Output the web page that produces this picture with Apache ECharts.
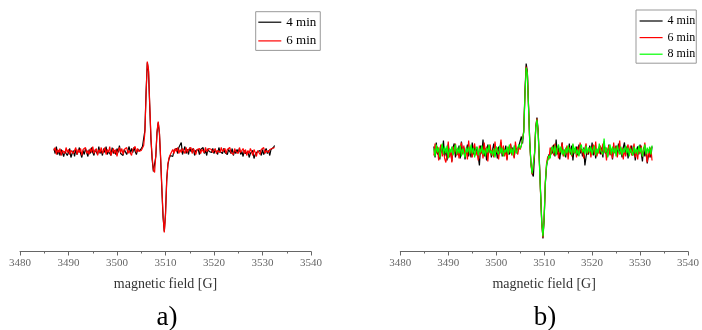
<!DOCTYPE html>
<html lang="en" style="height: 100%">
<head>
<meta charset="utf-8">
<title>EPR spectra</title>
</head>
<body style="height: 100%; margin: 0; background: #fff">
<div id="container" style="height: 100%"></div>

<script type="text/javascript" src="https://cdn.jsdelivr.net/npm/echarts/dist/echarts.min.js"></script>

<script type="text/javascript">

// field sweep: 3487 G upward in 0.25 G steps (183 samples)
var fieldStart = 3487;
var fieldStep = 0.25;

// panel a) signal intensity (a.u.), one row = 10 samples
var a4min = [
    3, -2, 5, -3, 1, -4, 2, -1, -5, 0,
    2, -4, -1, 3, -6, -2, 1, -5, 2, -3,
    0, 4, -2, -6, 1, -3, 3, -1, -5, 2,
    -2, 4, -1, -4, 2, 0, -3, 5, -2, 1,
    -4, 3, -1, 5, -3, 0, 2, -4, 4, -2,
    1, -3, 3, -1, 6, -2, 0, -4, 2, 4,
    -3, 1, 5, -2, 3, -1, 4, 0, -3, 2,
    4, 1, 3, 5, 7, 21, 60, 89, 80, 45,
    12, -8, -20, -22, -5, 19, 29, 18, -8, -38,
    -66, -80, -62, -28, -13, -7, -4, -2, -5, 1,
    -1, 3, -2, 4, 2, 9, -3, 1, 5, -2,
    2, -3, 4, 0, -2, 3, -4, 1, -1, 2,
    -3, 2, 0, 4, -2, 1, -4, 3, 0, 2,
    -1, 3, -2, 2, 1, -3, 4, 0, 2, -2,
    3, -1, 1, -3, 2, 0, -2, 3, -4, 1,
    -2, 2, -1, 3, -3, 0, -5, 1, -2, -4,
    0, -6, -2, -4, 1, -7, -3, -5, 0, -2,
    1, -4, 2, -3, -1, 3, -2, 1, -4, 2,
    1, 4, 6
];
var a6min = [
    1, 4, -3, 2, -1, 3, -4, 1, 2, -2,
    4, -1, 2, -3, 1, 3, -2, 0, 4, -3,
    2, -1, 3, -4, 2, 0, 4, -2, 1, -3,
    3, -1, 5, -2, 0, 3, -4, 2, -1, 4,
    -2, 1, 4, -3, 2, -1, 5, -4, 0, 3,
    -2, 2, -5, 1, 4, -1, 3, -3, 2, 0,
    4, -2, 1, 3, -4, 2, 0, 5, -1, 3,
    0, 2, 1, 3, 6, 19, 58, 90, 82, 47,
    14, -6, -18, -21, -4, 20, 30, 19, -6, -36,
    -64, -81, -64, -30, -12, -6, -3, -1, 2, -2,
    3, 0, 4, -2, 2, -1, 3, 1, -2, 4,
    -1, 2, 0, 4, -2, 3, 1, -3, 2, 0,
    3, -2, 2, 1, -1, 4, 0, -2, 3, 1,
    2, -1, 0, 3, -2, 1, 2, -1, 4, 0,
    1, 3, -2, 2, 0, 4, -1, 1, -3, 3,
    0, 2, -2, 4, -1, 1, 3, -2, 2, -4,
    1, -2, 3, 0, -4, 2, -1, -5, 1, 3,
    -3, 2, 0, 4, -2, 1, 3, -1, 2, 0,
    3, 2, 4
];

// panel b)
var b4min = [
    5, -6, 9, -3, 2, -8, 6, -2, 11, -5,
    3, -9, 7, -4, 1, -10, 4, 8, -6, 2,
    -3, 6, -7, 10, -2, 4, -8, 1, 7, -5,
    2, -6, 9, -3, 5, -1, 4, 3, -14, 6,
    -2, 12, -5, 3, -9, 7, -1, 4, -6, 2,
    8, -4, 1, -7, 5, -2, 9, -5, 3, -1,
    6, -8, 2, -3, 7, -1, 4, -6, 3, 3,
    2, 6, 4, 15, 8, 22, 60, 88, 80, 45,
    10, -12, -22, -25, -3, 24, 34, 21, -9, -40,
    -70, -87, -68, -32, -15, -7, -3, -6, 4, -2,
    7, -5, 12, -3, 5, -8, 2, 9, -4, 1,
    -6, 4, -2, 8, -3, 6, -9, 3, -1, 5,
    -4, 7, -2, 3, -5, 4, -14, -5, 1, -3,
    6, -2, 9, -4, 3, -7, 2, -1, 5, -3,
    4, -6, 10, -2, 1, -5, 7, -3, 2, -8,
    3, -1, 6, -4, 8, -2, 1, -6, 4, 9,
    -3, 5, -7, 2, -1, 6, -4, 3, -9, 1,
    5, -3, 7, -2, -10, 4, -5, 2, -12, -4,
    3, -6, 5
];
var b6min = [
    -4, 8, -2, 5, -9, 3, 7, -5, 1, -7,
    -11, -3, 10, -6, 2, -11, 5, -2, 8, -4,
    1, -7, 4, 9, -3, 6, -5, 2, -8, 11,
    -2, 5, -6, 3, 8, -4, 1, -9, 6, -3,
    4, -7, 9, -2, 5, -10, 3, 7, -4, 2,
    -6, 10, -1, 4, -8, 3, 12, -3, 6, -5,
    2, -9, 5, -1, 8, -4, 3, -7, 10, 1,
    -3, 5, 2, 6, 4, 20, 58, 85, 79, 44,
    8, -13, -23, -24, -2, 25, 33, 20, -10, -42,
    -72, -86, -66, -30, -12, -5, -8, 4, -3, 6,
    -4, 8, -2, 5, -7, 3, -1, 9, -5, 2,
    -3, 6, -8, 4, 1, -5, 7, -2, 3, -6,
    5, -4, 9, -1, 2, -7, 3, 8, -3, -1,
    4, -6, 2, 7, -3, 10, -5, 1, -2, 6,
    -3, 8, -1, 4, -9, 2, 6, -4, 3, -7,
    9, -2, 5, -6, 1, 11, -3, 4, -8, 2,
    -5, 3, 7, -2, 6, -4, 1, 8, -6, 3,
    -8, 4, -2, 6, -5, 1, 9, -3, -11, 2,
    -6, 4, -9
];
var b8min = [
    3, -5, 7, -1, 4, -6, 2, 8, -3, 5,
    -2, 6, -7, 3, -1, 5, -4, 2, 7, -3,
    4, -2, 6, -5, 3, 1, -6, 4, -1, 5,
    -3, 7, -2, 4, -6, 2, 5, -4, 3, -1,
    6, -3, 2, -5, 4, -1, 7, -2, 1, -4,
    3, -6, 5, 0, -3, 6, -2, 4, -5, 2,
    -1, 5, -3, 7, -2, 3, -4, 6, 1, -2,
    4, 7, 3, 6, 5, 19, 57, 84, 78, 43,
    9, -12, -22, -23, -1, 24, 32, 19, -11, -41,
    -71, -85, -67, -31, -13, -9, -4, -7, 2, 5,
    -2, 6, -4, 3, 7, -1, 5, -3, 2, -5,
    4, -2, 6, -1, 3, -4, 8, -2, 5, -3,
    2, -5, 4, 7, -1, 3, -3, 6, -2, 4,
    -1, 5, -3, 2, 6, -4, 3, -2, 8, 1,
    3, -3, 13, -1, 4, -6, 2, 7, -3, 5,
    -2, 4, -5, 6, 1, -3, 5, -4, 3, -1,
    6, -2, 4, -5, 3, 1, -4, 5, -2, 3,
    -3, 6, -1, 4, -5, 2, 7, -3, 4, -2,
    5, -3, 6
];

var seriesNames = ['4 min', '6 min', '8 min'];
var seriesColors = ['#000000', '#ff0000', '#00ff00'];
var panelLabels = ['a)', 'b)'];

var serif = 'Liberation Serif';

function pairs(vals) {
    return vals.map(function (v, i) { return [fieldStart + i * fieldStep, v]; });
}

function fieldAxis(idx) {
    return {
        type: 'value',
        gridIndex: idx,
        min: 3480,
        max: 3540,
        interval: 10,
        axisLine: {onZero: false, lineStyle: {color: '#666', width: 1}},
        axisTick: {length: 4, lineStyle: {color: '#666'}},
        minorTick: {show: true, splitNumber: 2, length: 2, lineStyle: {color: '#666'}},
        axisLabel: {
            color: '#666', fontFamily: serif, fontSize: 11, margin: 6,
            formatter: function (v) { return String(v); }
        },
        splitLine: {show: false},
        name: 'magnetic field [G]',
        nameLocation: 'middle',
        nameGap: 26,
        nameTextStyle: {color: '#333', fontFamily: serif, fontSize: 14}
    };
}

function line(name, vals, panel) {
    var c = seriesColors[seriesNames.indexOf(name)];
    return {
        name: name,
        type: 'line',
        xAxisIndex: panel,
        yAxisIndex: panel,
        data: pairs(vals),
        symbol: 'none',
        lineStyle: {width: 1.2, color: c},
        itemStyle: {color: c}
    };
}

var dom = document.getElementById('container');
var myChart = echarts.init(dom);

var legendBase = {
    orient: 'vertical',
    itemWidth: 23,
    borderColor: '#999',
    borderWidth: 1,
    backgroundColor: '#fff',
    itemStyle: {opacity: 0},
    lineStyle: {width: 1.2}
};

var option = {
    animation: false,
    backgroundColor: '#fff',
    grid: [
        {left: 20, width: 291, top: 31.5, bottom: 78.5},
        {left: 400.3, width: 291.4, top: 31.5, bottom: 78.5}
    ],
    xAxis: [fieldAxis(0), fieldAxis(1)],
    yAxis: [
        {type: 'value', gridIndex: 0, min: -100, max: 120, show: false},
        {type: 'value', gridIndex: 1, min: -100, max: 120, show: false}
    ],
    legend: [
        Object.assign({}, legendBase, {
            data: ['4 min', '6 min'],
            left: 255.7,
            top: 11.7,
            itemHeight: 12,
            itemGap: 5.7,
            padding: [4, 4, 3, 2],
            textStyle: {color: '#000', fontFamily: serif, fontSize: 13}
        }),
        Object.assign({}, legendBase, {
            data: ['4 min', '6 min', '8 min'],
            left: 636,
            top: 10,
            itemHeight: 10,
            itemGap: 4.6,
            padding: [5, 1, 3, 3],
            textStyle: {color: '#000', fontFamily: serif, fontSize: 12}
        })
    ],
    graphic: [
        {type: 'text', x: 167, y: 318, style: {text: panelLabels[0], fontFamily: serif, fontSize: 27, fill: '#000', textAlign: 'center', textVerticalAlign: 'middle'}},
        {type: 'text', x: 545, y: 318, style: {text: panelLabels[1], fontFamily: serif, fontSize: 27, fill: '#000', textAlign: 'center', textVerticalAlign: 'middle'}}
    ],
    series: [
        line('4 min', a4min, 0),
        line('6 min', a6min, 0),
        line('4 min', b4min, 1),
        line('6 min', b6min, 1),
        line('8 min', b8min, 1)
    ]
};

if (option && typeof option === 'object') {
    myChart.setOption(option);
}

window.addEventListener('resize', myChart.resize);
</script>
</body>
</html>
